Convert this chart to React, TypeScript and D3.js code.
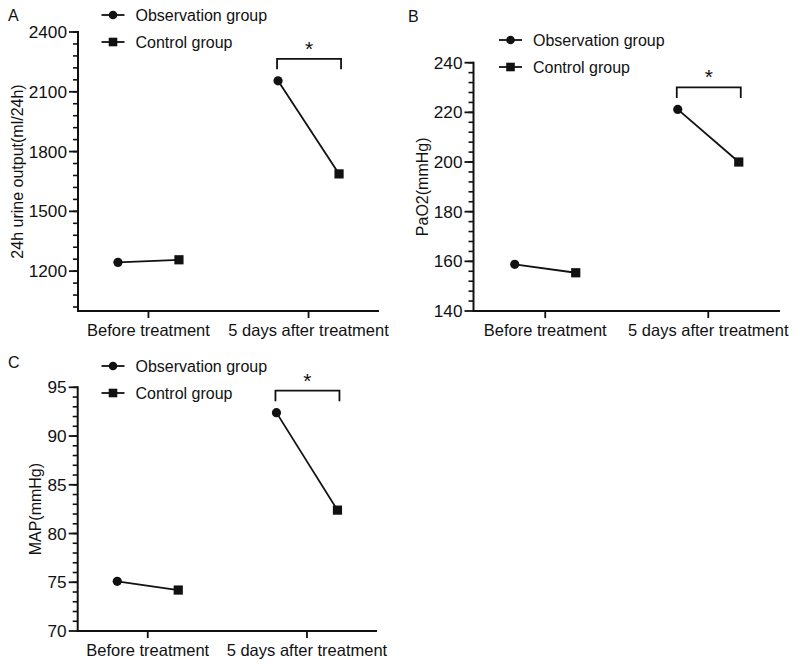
import * as d3 from "d3";
import React from "react";

const groups = ["Before treatment", "5 days after treatment"];
const series = ["Observation group", "Control group"];

// panel A: 24h urine output
const urineObs = [1244, 2155];
const urineCtrl = [1257, 1688];
const urineTicks = [1200, 1500, 1800, 2100, 2400];

// panel B: PaO2
const pao2Obs = [158.8, 221.2];
const pao2Ctrl = [155.4, 200];
const pao2Ticks = [140, 160, 180, 200, 220, 240];

// panel C: MAP
const mapObs = [75.1, 92.4];
const mapCtrl = [74.2, 82.4];
const mapTicks = [70, 75, 80, 85, 90, 95];

const FONT = "'Liberation Sans', Arial, Helvetica, sans-serif";
const INK = "#111";

type PanelProps = {
  letter: string;
  letterX: number;
  letterY: number;
  yTitle: string;
  yTitleX: number;
  obs: number[];
  ctrl: number[];
  domain: [number, number];
  ticks: number[];
  minorStep: number;
  left: number;
  right: number;
  top: number;
  bottom: number;
  legendX: number;
  legendY: number;
};

const Panel = ({
  letter,
  letterX,
  letterY,
  yTitle,
  yTitleX,
  obs,
  ctrl,
  domain,
  ticks,
  minorStep,
  left,
  right,
  top,
  bottom,
  legendX,
  legendY,
}: PanelProps) => {
  const y = d3.scaleLinear().domain(domain).range([bottom, top]);
  const x = d3.scalePoint<string>().domain(groups).range([left, right]).padding(0.44);
  const inner = d3.scalePoint<string>().domain(series).range([-30.5, 30.5]);

  const minor = d3.range(domain[1], domain[0], -minorStep);
  const line = d3.line<[number, number]>().x((d) => d[0]).y((d) => d[1]);

  const pairs = groups.map((g, i) => {
    const p1: [number, number] = [x(g)! + inner(series[0])!, y(obs[i])];
    const p2: [number, number] = [x(g)! + inner(series[1])!, y(ctrl[i])];
    return { g, p1, p2 };
  });

  // significance bracket over the second group
  const last = pairs[1];
  const bTop = Math.min(last.p1[1], last.p2[1]) - 22;

  return (
    <g fontFamily={FONT} fill={INK}>
      <text x={letterX} y={letterY} fontSize={16} dominantBaseline="central">
        {letter}
      </text>

      {/* y axis */}
      <line x1={left} x2={left} y1={top - 1} y2={bottom + 1} stroke={INK} strokeWidth={2} />
      {minor.map((v) => (
        <line key={"m" + v} x1={left - 5} x2={left} y1={y(v)} y2={y(v)} stroke={INK} strokeWidth={1.6} />
      ))}
      {ticks.map((v) => (
        <g key={"t" + v}>
          <line x1={left - 9} x2={left} y1={y(v)} y2={y(v)} stroke={INK} strokeWidth={1.8} />
          <text x={left - 11} y={y(v)} fontSize={17.2} textAnchor="end" dominantBaseline="central">
            {v}
          </text>
        </g>
      ))}
      <text
        transform={`translate(${yTitleX}, ${(top + bottom) / 2}) rotate(-90)`}
        fontSize={16}
        textAnchor="middle"
        dominantBaseline="central"
      >
        {yTitle}
      </text>

      {/* x axis */}
      <line x1={left - 1} x2={right} y1={bottom} y2={bottom} stroke={INK} strokeWidth={2} />
      {groups.map((g) => (
        <g key={g}>
          <line x1={x(g)} x2={x(g)} y1={bottom} y2={bottom + 7} stroke={INK} strokeWidth={1.8} />
          <text x={x(g)} y={bottom + 25} fontSize={16.5} textAnchor="middle">
            {g}
          </text>
        </g>
      ))}

      {/* data */}
      {pairs.map(({ g, p1, p2 }) => (
        <g key={"d" + g}>
          <path d={line([p1, p2])!} stroke={INK} strokeWidth={1.8} fill="none" />
          <circle cx={p1[0]} cy={p1[1]} r={4.6} fill={INK} />
          <rect x={p2[0] - 4.6} y={p2[1] - 4.6} width={9.2} height={9.2} fill={INK} />
        </g>
      ))}

      {/* bracket */}
      <path
        d={`M${last.p1[0] - 1},${bTop + 10.5}V${bTop}H${last.p2[0] + 2}V${bTop + 10.5}`}
        stroke={INK}
        strokeWidth={1.8}
        fill="none"
      />
      <text
        x={(last.p1[0] + last.p2[0]) / 2 + 0.5}
        y={bTop - 3}
        fontSize={21}
        textAnchor="middle"
      >
        *
      </text>

      {/* legend */}
      {series.map((s, i) => {
        const ly = legendY + i * 27;
        return (
          <g key={s}>
            <line x1={legendX - 11.5} x2={legendX + 11.5} y1={ly} y2={ly} stroke={INK} strokeWidth={1.8} />
            {i === 0 ? (
              <circle cx={legendX} cy={ly} r={4.3} fill={INK} />
            ) : (
              <rect x={legendX - 4.3} y={ly - 4.3} width={8.6} height={8.6} fill={INK} />
            )}
            <text x={legendX + 22.5} y={ly} fontSize={16} dominantBaseline="central">
              {s}
            </text>
          </g>
        );
      })}
    </g>
  );
};

export default function App() {
  return (
    <svg
      width={800}
      height={664}
      style={{ position: "absolute", left: 0, top: 0, background: "#fff" }}
    >
      <rect width={800} height={664} fill="#fff" />
      <Panel
        letter="A"
        letterX={8}
        letterY={15}
        yTitle="24h urine output(ml/24h)"
        yTitleX={17}
        obs={urineObs}
        ctrl={urineCtrl}
        domain={[1000, 2400]}
        ticks={urineTicks}
        minorStep={60}
        left={78}
        right={379}
        top={32}
        bottom={311}
        legendX={113}
        legendY={15}
      />
      <Panel
        letter="B"
        letterX={408}
        letterY={16}
        yTitle="PaO2(mmHg)"
        yTitleX={422}
        obs={pao2Obs}
        ctrl={pao2Ctrl}
        domain={[140, 240]}
        ticks={pao2Ticks}
        minorStep={4}
        left={473.5}
        right={780}
        top={62.7}
        bottom={311}
        legendX={510.5}
        legendY={40}
      />
      <Panel
        letter="C"
        letterX={8}
        letterY={362}
        yTitle="MAP(mmHg)"
        yTitleX={35}
        obs={mapObs}
        ctrl={mapCtrl}
        domain={[70, 95]}
        ticks={mapTicks}
        minorStep={1}
        left={77.7}
        right={377}
        top={387.3}
        bottom={631}
        legendX={113}
        legendY={366}
      />
    </svg>
  );
}
